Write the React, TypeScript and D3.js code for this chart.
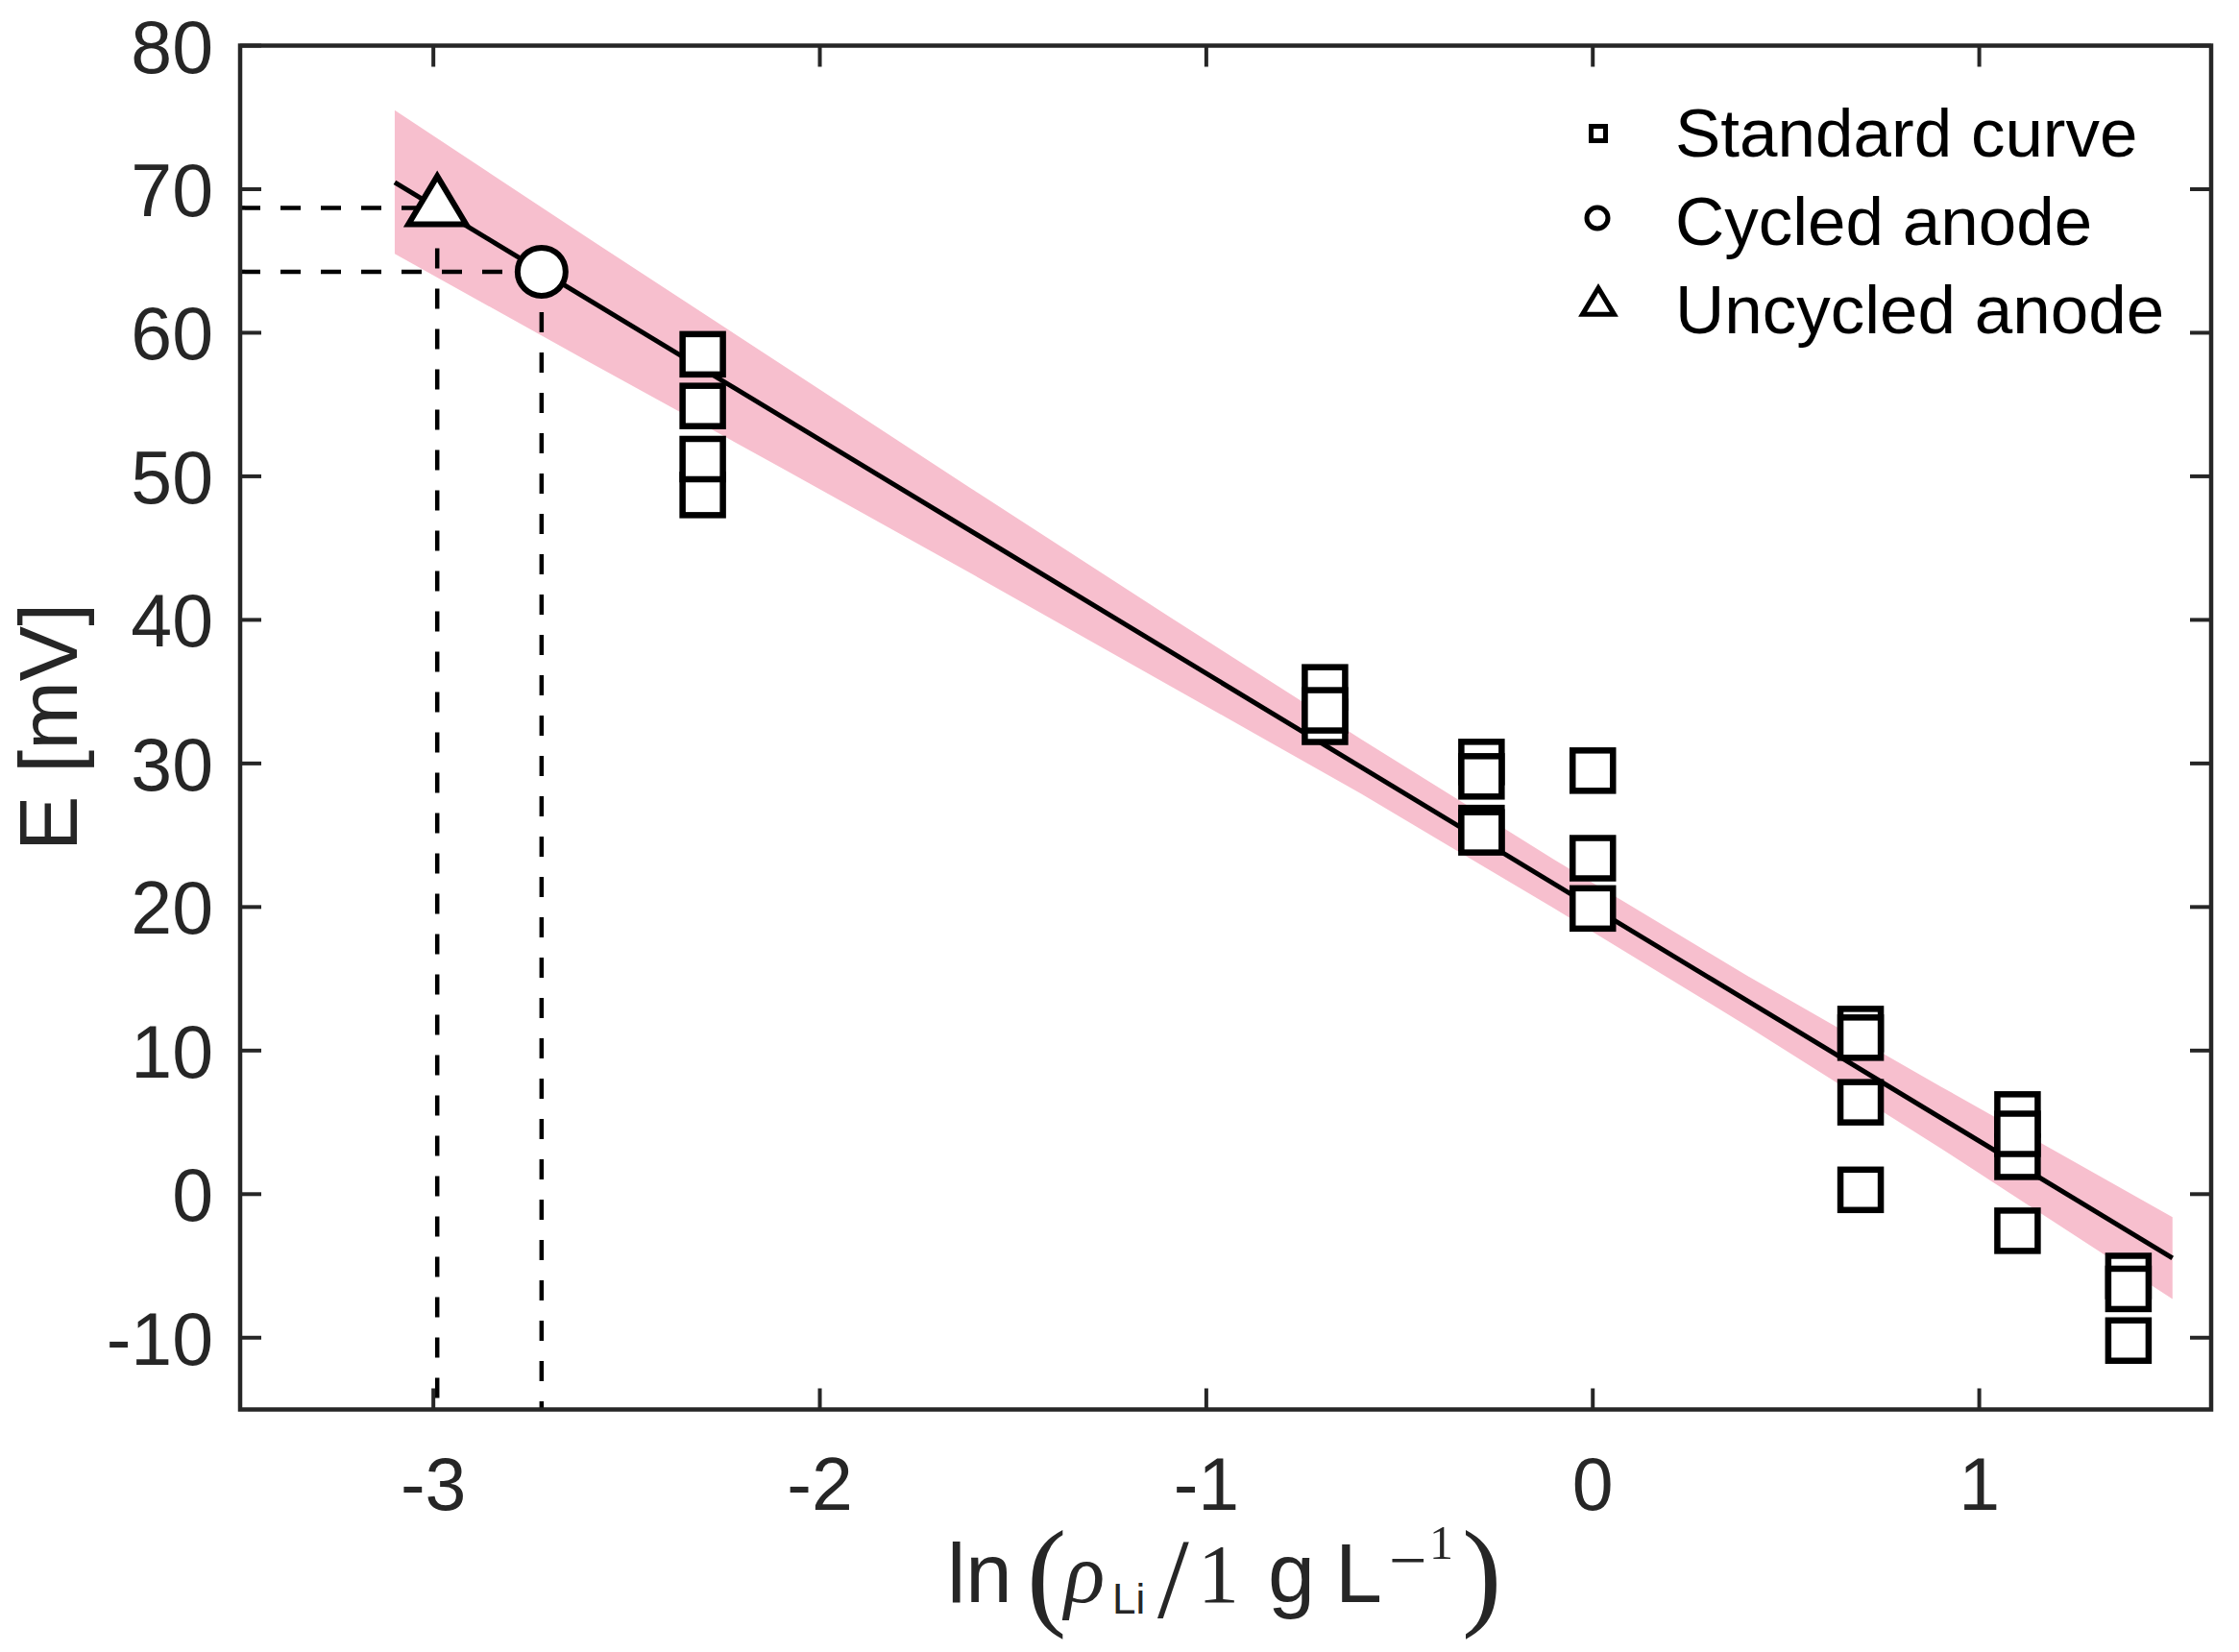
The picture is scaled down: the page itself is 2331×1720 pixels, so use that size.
import React from "react";
import * as d3 from "d3";

// ---- data ----
const stdX = [
  -2.303, -2.303, -2.303, -2.303,
  -0.693, -0.693, -0.693,
  -0.288, -0.288, -0.288, -0.288,
  0, 0, 0,
  0.693, 0.693, 0.693, 0.693,
  1.099, 1.099, 1.099, 1.099,
  1.386, 1.386, 1.386,
];
const stdE = [
  58.5, 54.9, 48.7, 51.2,
  35.3, 32.9, 33.7,
  30.1, 29.1, 25.5, 25.2,
  29.5, 23.4, 19.9,
  11.5, 10.9, 6.4, 0.3,
  5.55, 2.6, 4.2, -2.55,
  -5.7, -6.6, -10.2,
];
const cycledX = [-2.72];
const cycledE = [64.25];
const uncycledX = [-2.99];
const uncycledE = [68.7];

const fitX = [-3.1, 1.5];
const fitE = [70.47, -4.45];

const bandX = [-3.1, -2.6, -2.1, -1.6, -1.1, -0.6, -0.1, 0.4, 0.9, 1.5];
const bandLo = [65.5, 58.0, 50.6, 43.1, 35.5, 27.9, 19.9, 11.7, 3.2, -7.3];
const bandHi = [75.5, 66.6, 57.8, 49.0, 40.3, 31.7, 23.3, 15.2, 7.5, -1.6];

const xTicks = [-3, -2, -1, 0, 1];
const yTicks = [-10, 0, 10, 20, 30, 40, 50, 60, 70, 80];
const xDomain = [-3.5, 1.6];
const yDomain = [-15, 80];

const legendLabels = ["Standard curve", "Cycled anode", "Uncycled anode"];

// ---- layout ----
const W = 2331;
const H = 1720;
const L = 250, R = 2302, T = 47.5, B = 1467.5;
const AX = "#262626";
const PINK = "#F7BFCE";
const SANS = "'Liberation Sans', Arial, Helvetica, sans-serif";
const SERIF = "'Liberation Serif', 'Times New Roman', serif";

const x = d3.scaleLinear().domain(xDomain).range([L, R]);
const y = d3.scaleLinear().domain(yDomain).range([B, T]);

const tri = (s: number) => `M0,${-33 * s}L${30 * s},${17 * s}L${-30 * s},${17 * s}Z`;

export default function App() {
  const area = d3
    .area<number>()
    .x((_, i) => x(bandX[i]))
    .y0((_, i) => y(bandLo[i]))
    .y1((_, i) => y(bandHi[i]));
  const line = d3
    .line<number>()
    .x((_, i) => x(fitX[i]))
    .y((_, i) => y(fitE[i]));

  const dashStyle = { stroke: "#000", strokeWidth: 4.5, strokeDasharray: "21 21", fill: "none" };

  return (
    <svg
      width={W}
      height={H}
      style={{ position: "absolute", left: 0, top: 0, background: "#fff" }}
    >
      <rect x={0} y={0} width={W} height={H} fill="#fff" />
      {/* confidence band */}
      <path d={area(bandX) || ""} fill={PINK} />

      {/* dashed guide lines */}
      {uncycledX.map((v, i) => (
        <g key={"u" + i}>
          <line x1={x(xDomain[0])} x2={x(v)} y1={y(uncycledE[i])} y2={y(uncycledE[i])} style={dashStyle} />
          <line x1={x(v)} x2={x(v)} y1={y(uncycledE[i]) + 42} y2={y(yDomain[0])} style={dashStyle} />
        </g>
      ))}
      {cycledX.map((v, i) => (
        <g key={"c" + i}>
          <line x1={x(xDomain[0])} x2={x(v)} y1={y(cycledE[i])} y2={y(cycledE[i])} style={dashStyle} />
          <line x1={x(v)} x2={x(v)} y1={y(cycledE[i]) + 42} y2={y(yDomain[0])} style={dashStyle} />
        </g>
      ))}

      {/* fit line */}
      <path d={line(fitX) || ""} stroke="#000" strokeWidth={5} fill="none" />

      {/* standard curve squares */}
      {stdX.map((v, i) => (
        <rect
          key={"s" + i}
          x={x(v) - 21}
          y={y(stdE[i]) - 21}
          width={42}
          height={42}
          fill="#fff"
          stroke="#000"
          strokeWidth={6.5}
        />
      ))}

      {/* uncycled triangle */}
      {uncycledX.map((v, i) => (
        <path
          key={"t" + i}
          d={tri(1)}
          transform={`translate(${x(v)},${y(uncycledE[i])})`}
          fill="#fff"
          stroke="#000"
          strokeWidth={6}
          strokeLinejoin="miter"
        />
      ))}
      {/* cycled circle */}
      {cycledX.map((v, i) => (
        <circle key={"o" + i} cx={x(v)} cy={y(cycledE[i])} r={25} fill="#fff" stroke="#000" strokeWidth={6} />
      ))}

      {/* axes box */}
      <rect x={L} y={T} width={R - L} height={B - T} fill="none" stroke={AX} strokeWidth={4.5} />
      {xTicks.map((t) => (
        <g key={"xt" + t}>
          <line x1={x(t)} x2={x(t)} y1={B} y2={B - 22} stroke={AX} strokeWidth={4} />
          <line x1={x(t)} x2={x(t)} y1={T} y2={T + 22} stroke={AX} strokeWidth={4} />
          <text x={x(t)} y={1572} textAnchor="middle" fontFamily={SANS} fontSize={77} fill={AX}>
            {String(t)}
          </text>
        </g>
      ))}
      {yTicks.map((t) => (
        <g key={"yt" + t}>
          <line x1={L} x2={L + 22} y1={y(t)} y2={y(t)} stroke={AX} strokeWidth={4} />
          <line x1={R} x2={R - 22} y1={y(t)} y2={y(t)} stroke={AX} strokeWidth={4} />
          <text x={222} y={y(t) + 28} textAnchor="end" fontFamily={SANS} fontSize={77} fill={AX}>
            {String(t)}
          </text>
        </g>
      ))}

      {/* y label */}
      <text
        transform="translate(80,757) rotate(-90)"
        textAnchor="middle"
        fontFamily={SANS}
        fontSize={86}
        fill={AX}
      >
        E [mV]
      </text>

      {/* x label: ln(ρ_Li / 1 g L^-1) */}
      <g fill={AX}>
        <text x={986} y={1668} fontFamily={SANS} fontSize={87}>ln</text>
        <text x={1069} y={1680} fontFamily={SERIF} fontSize={124}>(</text>
        <text x={1108} y={1668} fontFamily={SERIF} fontStyle="italic" fontSize={88}>ρ</text>
        <text x={1158} y={1680} fontFamily={SANS} fontSize={44}>Li</text>
        <text x={1205} y={1684} fontFamily={SERIF} fontSize={118}>/</text>
        <text x={1247} y={1668} fontFamily={SERIF} fontSize={86}>1</text>
        <text x={1320} y={1668} fontFamily={SANS} fontSize={88}>g</text>
        <text x={1390} y={1668} fontFamily={SANS} fontSize={88}>L</text>
        <text x={1446} y={1648} fontFamily={SERIF} fontSize={70}>−</text>
        <text x={1488} y={1623} fontFamily={SERIF} fontSize={50}>1</text>
        <text x={1522} y={1680} fontFamily={SERIF} fontSize={124}>)</text>
      </g>

      {/* legend */}
      <g>
        <rect x={1664 - 7.5} y={139 - 7.5} width={15} height={15} fill="#fff" stroke="#000" strokeWidth={5} />
        <circle cx={1663} cy={227} r={11} fill="#fff" stroke="#000" strokeWidth={5} />
        <path d={tri(0.55)} transform="translate(1664,318)" fill="#fff" stroke="#000" strokeWidth={5} />
        {legendLabels.map((s, i) => (
          <text key={s} x={1744} y={163 + i * 92} fontFamily={SANS} fontSize={71} fill="#000">
            {s}
          </text>
        ))}
      </g>
    </svg>
  );
}
